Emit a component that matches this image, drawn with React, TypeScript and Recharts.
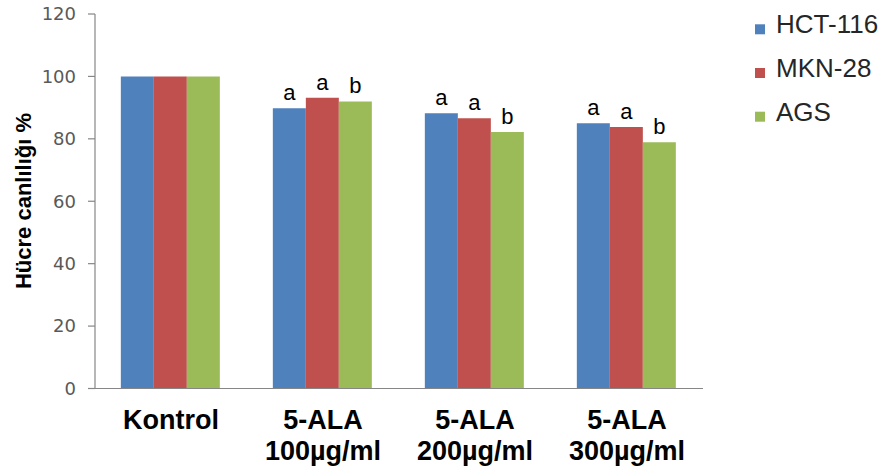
import React from 'react';
import { BarChart, Bar, XAxis, YAxis, Legend, LabelList } from 'recharts';

const categories = ['Kontrol', '5-ALA\n100µg/ml', '5-ALA\n200µg/ml', '5-ALA\n300µg/ml'];
const hct116 = [100, 89.8, 88.2, 85.0];
const mkn28 = [100, 93.2, 86.6, 83.8];
const ags = [100, 92.0, 82.2, 78.9];
const hctLetters = ['', 'a', 'a', 'a'];
const mknLetters = ['', 'a', 'a', 'a'];
const agsLetters = ['', 'b', 'b', 'b'];
const yTicks = [0, 20, 40, 60, 80, 100, 120];

const seriesNames = ['HCT-116', 'MKN-28', 'AGS'];
const colors = ['#4F81BD', '#C0504D', '#9BBB59'];

const data = categories.map((c, i) => ({
  name: c,
  hct: hct116[i],
  mkn: mkn28[i],
  ags: ags[i],
  hctL: hctLetters[i],
  mknL: mknLetters[i],
  agsL: agsLetters[i],
}));

const XTick = (props: any) => {
  const { x, y, payload } = props;
  const lines = String(payload.value).split('\n');
  return (
    <text
      x={x}
      y={y}
      textAnchor="middle"
      fontFamily="'Liberation Sans', Arial, sans-serif"
      fontWeight="bold"
      fontSize={27}
      fill="#000"
    >
      {lines.map((l, i) => (
        <tspan key={i} x={x} y={y + 40.5 + i * 31}>
          {l}
        </tspan>
      ))}
    </text>
  );
};

const YLabel = () => (
  <text
    x={23}
    y={201}
    transform="rotate(-90 23 201)"
    textAnchor="middle"
    dominantBaseline="central"
    fontFamily="'Liberation Sans', Arial, sans-serif"
    fontWeight="bold"
    fontSize={22}
    fill="#000"
  >
    Hücre canlılığı %
  </text>
);

const LegendContent = () => (
  <svg width={145} height={140}>
    {seriesNames.map((n, i) => {
      const base = 33.3 + i * 43.7;
      return (
        <g key={n}>
          <rect x={10} y={base - 9} width={10} height={10} fill={colors[i]} />
          <text
            x={31}
            y={base}
            fontFamily="'Liberation Sans', Arial, sans-serif"
            fontSize={26}
            fill="#262626"
          >
            {n}
          </text>
        </g>
      );
    })}
  </svg>
);

const labelStyle = {
  fontFamily: "'Liberation Sans', Arial, sans-serif",
  fontSize: 22,
  fill: '#000',
};

export default function App() {
  return (
    <div style={{ position: 'absolute', left: 0, top: 0, width: 890, height: 470, background: '#fff' }}>
      <BarChart
        width={890}
        height={470}
        data={data}
        margin={{ top: 14, right: 187, bottom: 0, left: 0 }}
        barCategoryGap="17%"
        barGap={0}
      >
        <XAxis
          dataKey="name"
          height={81.5}
          interval={0}
          tickLine={false}
          tickSize={0}
          tickMargin={0}
          axisLine={{ stroke: '#868686', strokeWidth: 1.2 }}
          tick={<XTick />}
        />
        <YAxis
          width={95}
          domain={[0, 120]}
          ticks={yTicks}
          interval={0}
          tickSize={7}
          tickMargin={12}
          axisLine={{ stroke: '#868686', strokeWidth: 1.2 }}
          tickLine={{ stroke: '#868686', strokeWidth: 1.2 }}
          tick={{ fontFamily: "'DejaVu Sans', Verdana, sans-serif", fontSize: 18, fill: '#595959' }}
          label={<YLabel />}
        />
        <Legend
          layout="vertical"
          align="center"
          verticalAlign="middle"
          content={<LegendContent />}
          wrapperStyle={{ position: 'absolute', left: 745, top: 0, width: 145, height: 140 }}
        />
        <Bar dataKey="hct" name={seriesNames[0]} fill={colors[0]} isAnimationActive={false}>
          <LabelList dataKey="hctL" position="top" offset={8} style={labelStyle} />
        </Bar>
        <Bar dataKey="mkn" name={seriesNames[1]} fill={colors[1]} isAnimationActive={false}>
          <LabelList dataKey="mknL" position="top" offset={8} style={labelStyle} />
        </Bar>
        <Bar dataKey="ags" name={seriesNames[2]} fill={colors[2]} isAnimationActive={false}>
          <LabelList dataKey="agsL" position="top" offset={8} style={labelStyle} />
        </Bar>
      </BarChart>
    </div>
  );
}
